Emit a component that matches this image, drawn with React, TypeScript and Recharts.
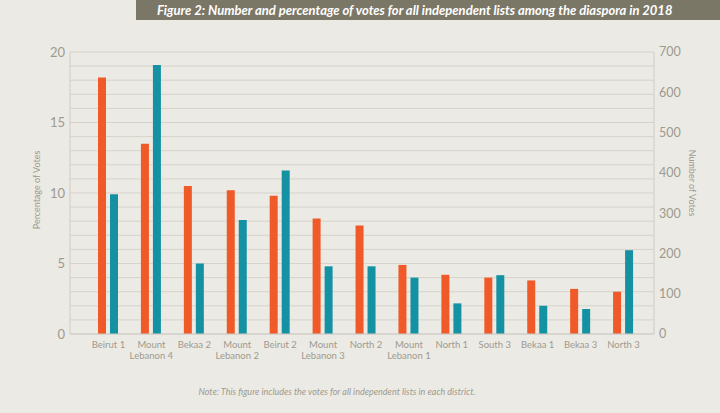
import React from 'react';
import { BarChart, Bar, XAxis, YAxis, CartesianGrid } from 'recharts';

const categories = [
  'Beirut 1', 'Mount Lebanon 4', 'Bekaa 2', 'Mount Lebanon 2', 'Beirut 2', 'Mount Lebanon 3',
  'North 2', 'Mount Lebanon 1', 'North 1', 'South 3', 'Bekaa 1', 'Bekaa 3', 'North 3',
];
const percentages = [18.2, 13.5, 10.5, 10.2, 9.8, 8.2, 7.7, 4.9, 4.2, 4.0, 3.8, 3.2, 3.0];
const votes = [347, 668, 175, 283, 406, 168, 168, 140, 76, 146, 70, 62, 208];
const leftTicks = [0, 1, 2, 3, 4, 5, 6, 7, 8, 9, 10, 11, 12, 13, 14, 15, 16, 17, 18, 19, 20];
const rightTicks = [0, 100, 200, 300, 400, 500, 600, 700];

const data = categories.map((name, i) => ({ name, pct: percentages[i], votes: votes[i] }));

const BG = '#eceae4';
const GRAY = '#9d9a90';
const FONT = 'Lato, "Open Sans", sans-serif';

const XTick = (props: any) => {
  const { x, y, payload } = props;
  const v: string = payload.value;
  const m = v.match(/^(Mount) (.*)$/);
  const lines = m ? [m[1], m[2]] : [v];
  return (
    <text x={x} y={y} textAnchor="middle" fill={GRAY} fontSize={9.5} fontFamily={FONT}>
      {lines.map((l, i) => (
        <tspan key={i} x={x} dy={i === 0 ? 12 : 11}>{l}</tspan>
      ))}
    </text>
  );
};

export default function App() {
  return (
    <div style={{ position: 'absolute', left: 0, top: 0, width: 720, height: 413, background: BG, fontFamily: FONT, overflow: 'hidden' }}>
      <div style={{ position: 'absolute', left: 136, top: 0, width: 584, height: 20, background: '#7b7767', color: '#ffffff', fontStyle: 'italic', fontWeight: 700, fontSize: 13, lineHeight: '20px', paddingLeft: 21, boxSizing: 'border-box', whiteSpace: 'nowrap' }}>
        Figure 2: Number and percentage of votes for all independent lists among the diaspora in 2018
      </div>
      <BarChart width={720} height={413} data={data} margin={{ top: 52, right: 0, left: 0, bottom: 49 }} barSize={8} barGap={4}>
        <CartesianGrid yAxisId="left" vertical={false} stroke="#d6d3cb" strokeWidth={1} />
        <XAxis dataKey="name" interval={0} tick={<XTick />} tickLine={false} tickSize={0} height={30} axisLine={{ stroke: '#cfccc4' }} padding={{ left: 17, right: 9 }} />
        <YAxis yAxisId="left" orientation="left" width={70} domain={[0, 20]} ticks={leftTicks} tickFormatter={(v: number) => (v % 5 === 0 ? String(v) : '')} tickLine={false} tickSize={0} tickMargin={5} axisLine={{ stroke: '#cfccc4' }} tick={{ fill: GRAY, fontSize: 13, fontFamily: FONT }} />
        <YAxis yAxisId="right" orientation="right" width={66} domain={[0, 700]} ticks={rightTicks} tickLine={false} tickSize={0} tickMargin={5} axisLine={{ stroke: '#cfccc4' }} tick={{ fill: GRAY, fontSize: 12.5, fontFamily: FONT, textAnchor: 'start' }} />
        <Bar yAxisId="left" dataKey="pct" fill="#ef5a28" isAnimationActive={false} />
        <Bar yAxisId="right" dataKey="votes" fill="#1492a3" isAnimationActive={false} />
      </BarChart>
      <div style={{ position: 'absolute', left: 36, top: 190, transform: 'translate(-50%, -50%) rotate(-90deg)', color: GRAY, fontSize: 9, whiteSpace: 'nowrap' }}>
        Percentage of Votes
      </div>
      <div style={{ position: 'absolute', left: 692, top: 183, transform: 'translate(-50%, -50%) rotate(90deg)', color: GRAY, fontSize: 9, whiteSpace: 'nowrap' }}>
        Number of Votes
      </div>
      <div style={{ position: 'absolute', left: 0, top: 386, width: 674, textAlign: 'center', color: GRAY, fontStyle: 'italic', fontSize: 9, whiteSpace: 'nowrap' }}>
        Note: This figure includes the votes for all independent lists in each district.
      </div>
    </div>
  );
}
